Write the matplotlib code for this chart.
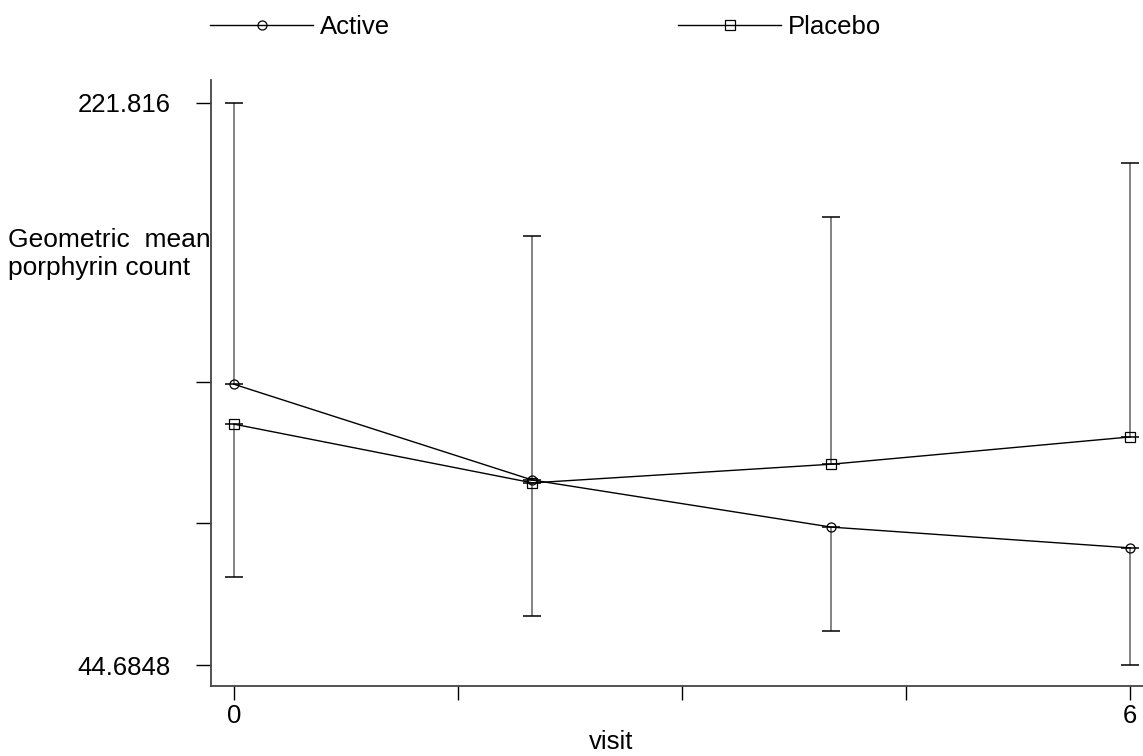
import numpy as np
import matplotlib
matplotlib.use("Agg")
import matplotlib.pyplot as plt
from matplotlib.lines import Line2D

plt.rcParams["font.family"] = ["Liberation Sans", "DejaVu Sans"]

# data
visits = [0, 2, 4, 6]
active_mean = [99.5, 75.7, 66.2, 62.4]
placebo_mean = [88.8, 75.1, 79.2, 85.6]
# end of the one-sided CI whisker drawn for each group
active_ci_end = [221.816, 151.8, 49.2, 44.6848]
placebo_ci_end = [57.4, 51.4, 160.2, 186.9]

ytick_vals = [44.6848, 67, 100, 221.816]
ytick_labels = ["44.6848", "", "", "221.816"]
xtick_vals = [0, 1.5, 3, 4.5, 6]
xtick_labels = ["0", "", "", "", "6"]

fig = plt.figure(figsize=(11.43, 7.56), dpi=100)
ax = fig.add_axes([0.1846, 0.0926, 0.8154, 0.8016])


def one_sided(mean, end):
    mean = np.array(mean)
    end = np.array(end)
    lower = np.where(end < mean, mean - end, 0)
    upper = np.where(end > mean, end - mean, 0)
    return [lower, upper]


for mean, end in [(active_mean, active_ci_end), (placebo_mean, placebo_ci_end)]:
    eb = ax.errorbar(visits, mean, yerr=one_sided(mean, end), fmt="none",
                     ecolor="#7a7a7a", elinewidth=1.3, capsize=6.5, capthick=1.1, zorder=1)
    for cap in eb[1]:
        cap.set_markeredgecolor("black")

ax.plot(visits, active_mean, color="black", lw=1.0, marker="o", ms=6.5,
        mfc="none", mec="black", mew=0.9, zorder=3)
ax.plot(visits, placebo_mean, color="black", lw=1.0, marker="s", ms=7.5,
        mfc="none", mec="black", mew=0.9, zorder=3)

ax.set_yscale("log")
ax.set_ylim(42.09, 236.8)
ax.set_xlim(-0.152, 6.087)
ax.minorticks_off()
ax.set_yticks(ytick_vals)
ax.set_yticklabels(ytick_labels)
ax.set_xticks(xtick_vals)
ax.set_xticklabels(xtick_labels)
ax.tick_params(axis="y", length=10.8, width=1.0, pad=18, labelsize=18.5, color="black")
ax.tick_params(axis="x", length=10, width=1.0, pad=3, labelsize=18.5, color="black")

for s in ["top", "right"]:
    ax.spines[s].set_visible(False)
for s in ["left", "bottom"]:
    ax.spines[s].set_color("#444444")
    ax.spines[s].set_linewidth(1.3)

# y label, horizontal, left aligned
fig.text(8 / 1143, 0.6733, "Geometric  mean", fontsize=19, ha="left", va="baseline")
fig.text(8 / 1143, 0.6362, "porphyrin count", fontsize=19, ha="left", va="baseline")
fig.text(0.5346, 0.009, "visit", fontsize=18.5, ha="center", va="baseline")

handles = [
    Line2D([], [], color="black", lw=1.0, marker="o", ms=6.5, mfc="none", mew=0.9),
    Line2D([], [], color="black", lw=1.0, marker="s", ms=7.5, mfc="none", mew=0.9),
]
fig.legend(handles, ["Active", "Placebo"], ncol=2, frameon=False, fontsize=18.5,
           loc="upper left", bbox_to_anchor=(0.1795, 0.987), borderpad=0.2,
           borderaxespad=0, handlelength=4.0, handletextpad=0.28, columnspacing=11.2)

fig.savefig("out.png", dpi=100)
